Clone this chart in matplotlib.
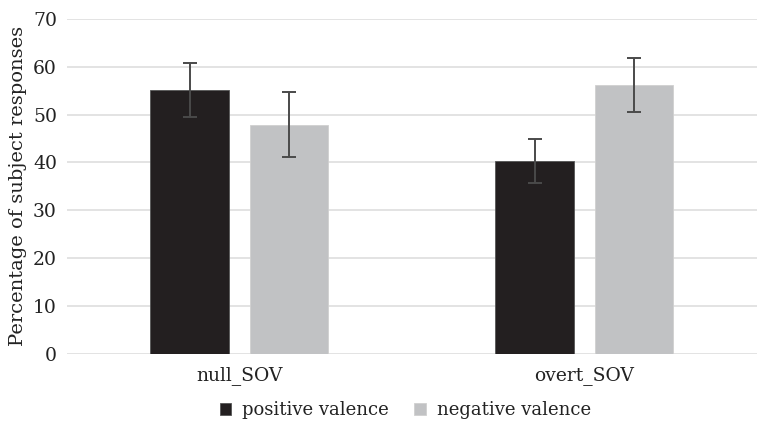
import numpy as np
import matplotlib
matplotlib.use("Agg")
import matplotlib.pyplot as plt

categories = ["null_SOV", "overt_SOV"]
series_names = ["positive valence", "negative valence"]
positive = [55.1, 40.2]
negative = [47.8, 56.1]
pos_lo = [49.5, 35.6]
pos_hi = [60.8, 44.8]
neg_lo = [41.1, 50.6]
neg_hi = [54.6, 61.7]

plt.rcParams['font.family'] = ['DejaVu Serif']

fig = plt.figure(figsize=(7.59, 4.22), dpi=100)
ax = fig.add_axes([66.7/759, 1 - 354/422, (757 - 66.7)/759, (354 - 18.7)/422])

x = np.arange(len(categories))
w = 0.228
off = 0.144

err_pos = [np.array(positive) - np.array(pos_lo), np.array(pos_hi) - np.array(positive)]
err_neg = [np.array(negative) - np.array(neg_lo), np.array(neg_hi) - np.array(negative)]

ekw = dict(ecolor="#4a4a4a", elinewidth=1.4, capsize=5, capthick=1.4)
ax.bar(x - off, positive, w, color="#231f20", edgecolor="#555555", linewidth=0.6,
       yerr=err_pos, error_kw=ekw, label=series_names[0], zorder=3)
ax.bar(x + off, negative, w, color="#c1c2c4", edgecolor="#d0d0d0", linewidth=0.6,
       yerr=err_neg, error_kw=ekw, label=series_names[1], zorder=3)

ax.set_xlim(-0.5, 1.5)
ax.set_ylim(0, 70)
ax.set_yticks(range(0, 71, 10))
ax.set_xticks(x)
ax.set_xticklabels(categories)
ax.yaxis.grid(True, color="#e0e0e0", linewidth=1.3, zorder=0)
ax.set_axisbelow(True)
for s in ax.spines.values():
    s.set_visible(False)
ax.tick_params(axis="both", length=0, labelsize=13.5, colors="#222222")
ax.tick_params(axis="y", pad=7)
ax.tick_params(axis="x", pad=9)
ax.set_ylabel("Percentage of subject responses", fontsize=14, color="#222222", labelpad=4)

fig.legend(loc="center", bbox_to_anchor=(0.534, 1 - 410/422), ncol=2, frameon=False,
           fontsize=13, handlelength=0.65, handleheight=0.65, handletextpad=0.6,
           columnspacing=1.4, labelcolor="#222222")

fig.savefig("out.png", dpi=100)
